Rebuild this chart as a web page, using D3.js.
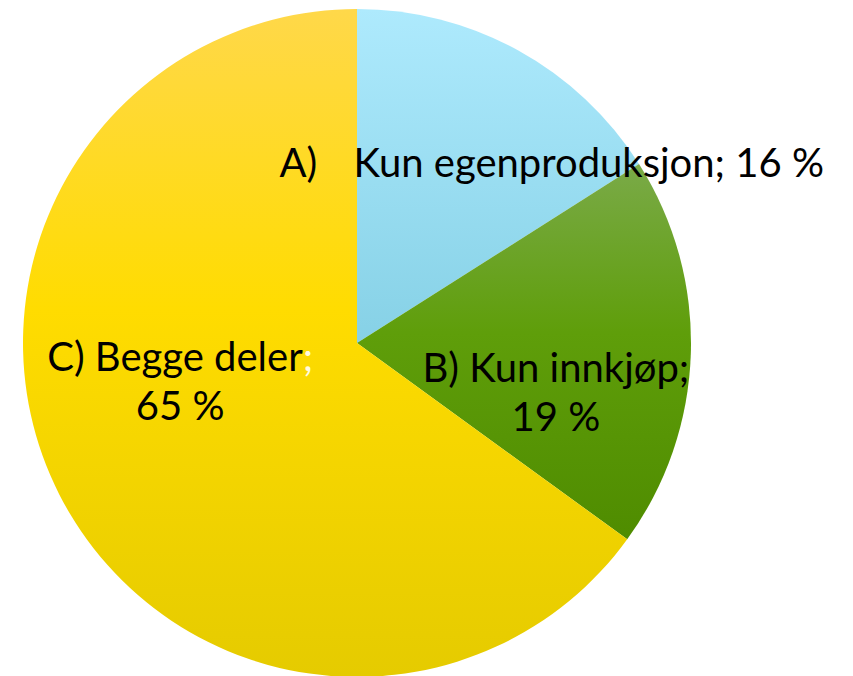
<!DOCTYPE html>
<html>
<head>
<meta charset="utf-8">
<script src="https://cdn.jsdelivr.net/npm/d3@7"></script>
<style>
  html, body { margin: 0; padding: 0; background: #fff; }
  svg { display: block; }
</style>
</head>
<body>
<div id="chart"></div>
<script>
const width = 853;
const height = 676;

// data
const letters = ['A)', 'B)', 'C)'];
const names = ['Kun egenproduksjon', 'Kun innkjøp', 'Begge deler'];
const values = [16, 19, 65];

// styling per slice
const gradients = [
    [['0%', '#aeeafd'], ['100%', '#86d1e6']],
    [['0%', '#7aaa48'], ['45%', '#5f9e0a'], ['100%', '#4f8c00']],
    [['0%', '#ffd84a'], ['45%', '#ffdc00'], ['100%', '#e5cb00']]
];
const labelOffsets = [[-158, -20], [32, 34], [-28, -48]];

const cx = 357, cy = 343, radius = 334;

const svg = d3.select('#chart').append('svg')
    .attr('width', width)
    .attr('height', height);

const defs = svg.append('defs');
gradients.forEach((stops, i) => {
    const g = defs.append('linearGradient')
        .attr('id', 'grad' + i)
        .attr('x1', 0).attr('y1', 0).attr('x2', 0).attr('y2', 1);
    stops.forEach(([off, col]) => {
        g.append('stop').attr('offset', off).attr('stop-color', col);
    });
});

const pieData = d3.pie().sort(null).value(d => d)(values);
const arc = d3.arc().innerRadius(0).outerRadius(radius);

const chartGroup = svg.append('g')
    .attr('transform', `translate(${cx}, ${cy})`);

chartGroup.selectAll('path')
    .data(pieData)
    .enter()
    .append('path')
    .attr('d', arc)
    .attr('fill', (d, i) => `url(#grad${i})`);

const font = 'Lato, "Open Sans", sans-serif';
const fontSize = 40;

pieData.forEach((d, i) => {
    const [x0, y0] = arc.centroid(d);
    const [dx, dy] = labelOffsets[i];
    const x = x0 + dx, y = y0 + dy;
    const t = chartGroup.append('text')
        .style('font-family', font)
        .style('font-size', fontSize + 'px')
        .style('fill', '#000');
    if (i === 0) {
        t.attr('x', x).attr('y', y);
        t.append('tspan').text(letters[i]);
        t.append('tspan').attr('x', x + 74).text(`${names[i]}; ${values[i]} %`);
    } else {
        t.attr('text-anchor', 'middle');
        const line1 = t.append('tspan').attr('x', x).attr('y', y);
        line1.append('tspan').text(`${letters[i]} ${names[i]}`);
        line1.append('tspan').style('fill', i === 2 ? '#fffbe0' : '#000').text(';');
        t.append('tspan').attr('x', x).attr('y', y + 49).text(`${values[i]} %`);
    }
});
</script>
</body>
</html>
